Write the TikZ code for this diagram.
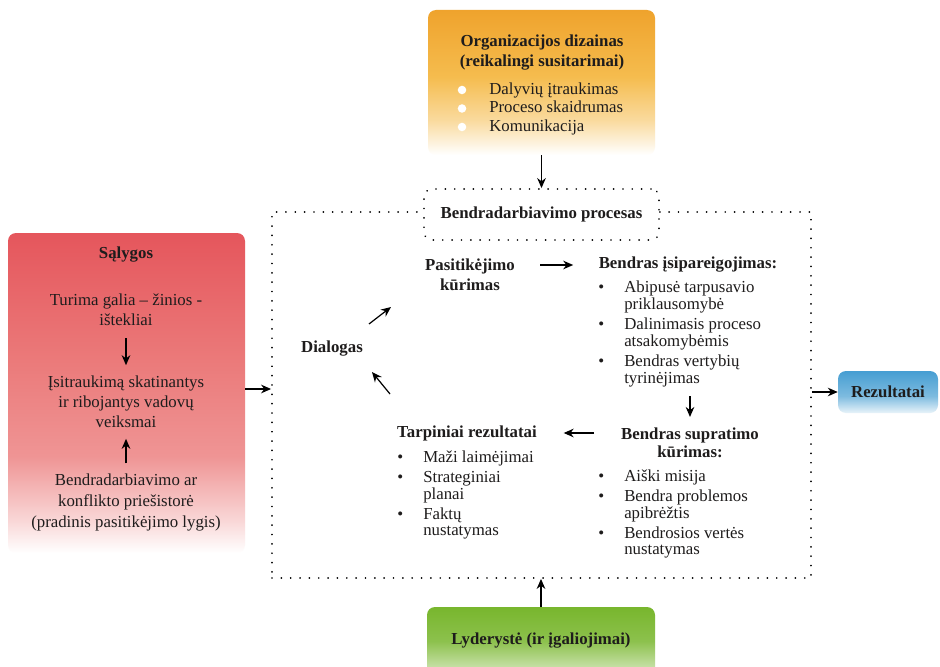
\documentclass[tikz,border=0pt]{standalone}
\usepackage{fontspec}
\setmainfont{Liberation Serif}
\usetikzlibrary{arrows.meta,calc}
\newdimen\px \px=0.75pt
\definecolor{orangeC}{RGB}{239,163,45}
\definecolor{orangeM}{RGB}{245,188,78}
\definecolor{redC}{RGB}{229,86,92}
\definecolor{redM}{RGB}{235,122,122}
\definecolor{blueC}{RGB}{70,158,210}
\definecolor{greenC}{RGB}{120,182,45}
\definecolor{txt}{RGB}{30,28,28}
\pgfdeclareverticalshading{orangefade}{100bp}{color(0bp)=(white); color(25bp)=(white); color(37bp)=(orangeM!55!white); color(52bp)=(orangeM); color(75bp)=(orangeC); color(100bp)=(orangeC)}
\pgfdeclareverticalshading{redfade}{100bp}{color(0bp)=(white); color(25bp)=(white); color(30bp)=(redM!30!white); color(40bp)=(redM!80!white); color(55bp)=(redM); color(75bp)=(redC); color(100bp)=(redC)}
\pgfdeclareverticalshading{bluefade}{100bp}{color(0bp)=(blueC!12!white); color(25bp)=(blueC!12!white); color(45bp)=(blueC!70!white); color(75bp)=(blueC); color(100bp)=(blueC)}
\pgfdeclareverticalshading{greenfade}{100bp}{color(0bp)=(greenC!30!white); color(25bp)=(greenC!30!white); color(50bp)=(greenC!85!white); color(75bp)=(greenC); color(100bp)=(greenC)}
\newcommand{\bl}[1]{\makebox[19.5pt][l]{\textbullet}#1}
\newcommand{\cl}[1]{\hspace*{19.5pt}#1}
\begin{document}
\begin{tikzpicture}[x=0.75pt,y=-0.75pt,
  base/.style={inner sep=0pt, text=txt, align=center, font=\fontsize{12.6pt}{15pt}\selectfont},
  bt/.style={base, font=\bfseries\fontsize{12.6pt}{15pt}\selectfont},
  listtxt/.style={inner sep=0pt, text=txt, align=left, font=\fontsize{12.6pt}{12.6pt}\selectfont},
  colbox/.style={draw=none, rounded corners=6pt, inner sep=0pt},
  dotline/.style={draw=black, line width=1.4pt, dash pattern=on 0.01pt off 7pt, line cap=round},
  arr/.style={-{Stealth[length=7.5pt,width=6.5pt]}, line width=0.9pt, black}]
\useasboundingbox (0,0) rectangle (940,667);
\clip (0,0) rectangle (940,667);
\fill[white] (0,0) rectangle (940,667);

% big collaboration frame
\node[dotline, minimum width=539\px, minimum height=366\px, inner sep=0pt] (collab) at (541.5,395) {};

% organisation design
\node[colbox, shading=orangefade, minimum width=227\px, minimum height=145\px] (org) at (541.5,82.5) {};
\node[bt] (orgT) at (542,53) {Organizacijos dizainas\\(reikalingi susitarimai)};
\node[base, align=left, anchor=west, font=\fontsize{12.6pt}{13.9pt}\selectfont] (orgL) at (489,108.5) {Dalyvių įtraukimas\\Proceso skaidrumas\\Komunikacija};
\fill[white] (462,90) circle[radius=3.2pt] (462,108.5) circle[radius=3.2pt] (462,127) circle[radius=3.2pt];

% process box
\node[dotline, fill=white, rounded corners=6pt, minimum width=235\px, minimum height=51\px, inner sep=0pt, bt, text=txt] (proc) at (541.5,214.5) {Bendradarbiavimo procesas};

% conditions
\node[colbox, shading=redfade, minimum width=237\px, minimum height=320\px] (cond) at (126.5,393) {};
\node[bt] (condT) at (126,255) {Sąlygos};
\node[base] (cond1) at (126,310) {Turima galia – žinios -\\ištekliai};
\node[base] (cond2) at (126,402) {Įsitraukimą skatinantys\\ir ribojantys vadovų\\veiksmai};
\node[base, font=\fontsize{12.6pt}{15.4pt}\selectfont] (cond3) at (126,502.5) {Bendradarbiavimo ar\\konflikto priešistorė\\(pradinis pasitikėjimo lygis)};

% results
\node[colbox, shading=bluefade, minimum width=100\px, minimum height=42\px, bt] (res) at (888,392) {Rezultatai};

% leadership
\node[colbox, shading=greenfade, minimum width=228\px, minimum height=68\px, bt] (lead) at (541,641) {Lyderystė (ir įgaliojimai)};

% inner cycle
\node[bt] (dialog) at (332,349) {Dialogas};
\node[bt] (pasit) at (470,275) {Pasitikėjimo\\kūrimas};
\node[bt] (commitT) at (688,265) {Bendras įsipareigojimas:};
\node[listtxt, anchor=west] (commitL) at (598,334) {\bl{Abipusė tarpusavio}\\\cl{priklausomybė}\\[2.4pt]\bl{Dalinimasis proceso}\\\cl{atsakomybėmis}\\[2.4pt]\bl{Bendras vertybių}\\\cl{tyrinėjimas}};
\node[bt, font=\bfseries\fontsize{12.6pt}{13.8pt}\selectfont] (underT) at (690,443) {Bendras supratimo\\kūrimas:};
\node[listtxt, anchor=west] (underL) at (598,514) {\bl{Aiški misija}\\[2.4pt]\bl{Bendra problemos}\\\cl{apibrėžtis}\\[2.4pt]\bl{Bendrosios vertės}\\\cl{nustatymas}};
\node[bt] (interT) at (467,433) {Tarpiniai rezultatai};
\node[listtxt, anchor=west] (interL) at (397,495) {\bl{Maži laimėjimai}\\[2.4pt]\bl{Strateginiai}\\\cl{planai}\\[2.4pt]\bl{Faktų}\\\cl{nustatymas}};

\coordinate (dA) at (369,324);
\coordinate (dB) at (391,307);
\coordinate (iA) at (390,394);
\coordinate (iB) at (372,372);

% connectors
\draw[arr] (org.south) -- (proc.north);
\draw[arr] ([yshift=3pt]cond.east) -- ([yshift=3pt]cond.east -| collab.west);
\draw[arr] (collab.east |- res.west) -- (res.west);
\draw[arr] (lead.north) -- (lead.north |- collab.south);
\draw[arr, shorten <=9pt, shorten >=8pt] (cond1) -- (cond1 |- cond2.north);
\draw[arr, shorten <=8pt, shorten >=8pt] (cond3) -- (cond3 |- cond2.south);
\draw[arr] (dA) -- (dB);
\draw[arr] (iA) -- (iB);
\draw[arr, shorten <=19pt, shorten >=19pt] (commitT.west -| pasit.east) -- (commitT.west);
\draw[arr, shorten <=7pt, shorten >=8pt] (underT.north |- commitL.south) -- (underT.north);
\draw[arr, shorten <=20pt, shorten >=20pt] (underT.west |- interT.east) -- (interT.east);
\end{tikzpicture}
\end{document}
